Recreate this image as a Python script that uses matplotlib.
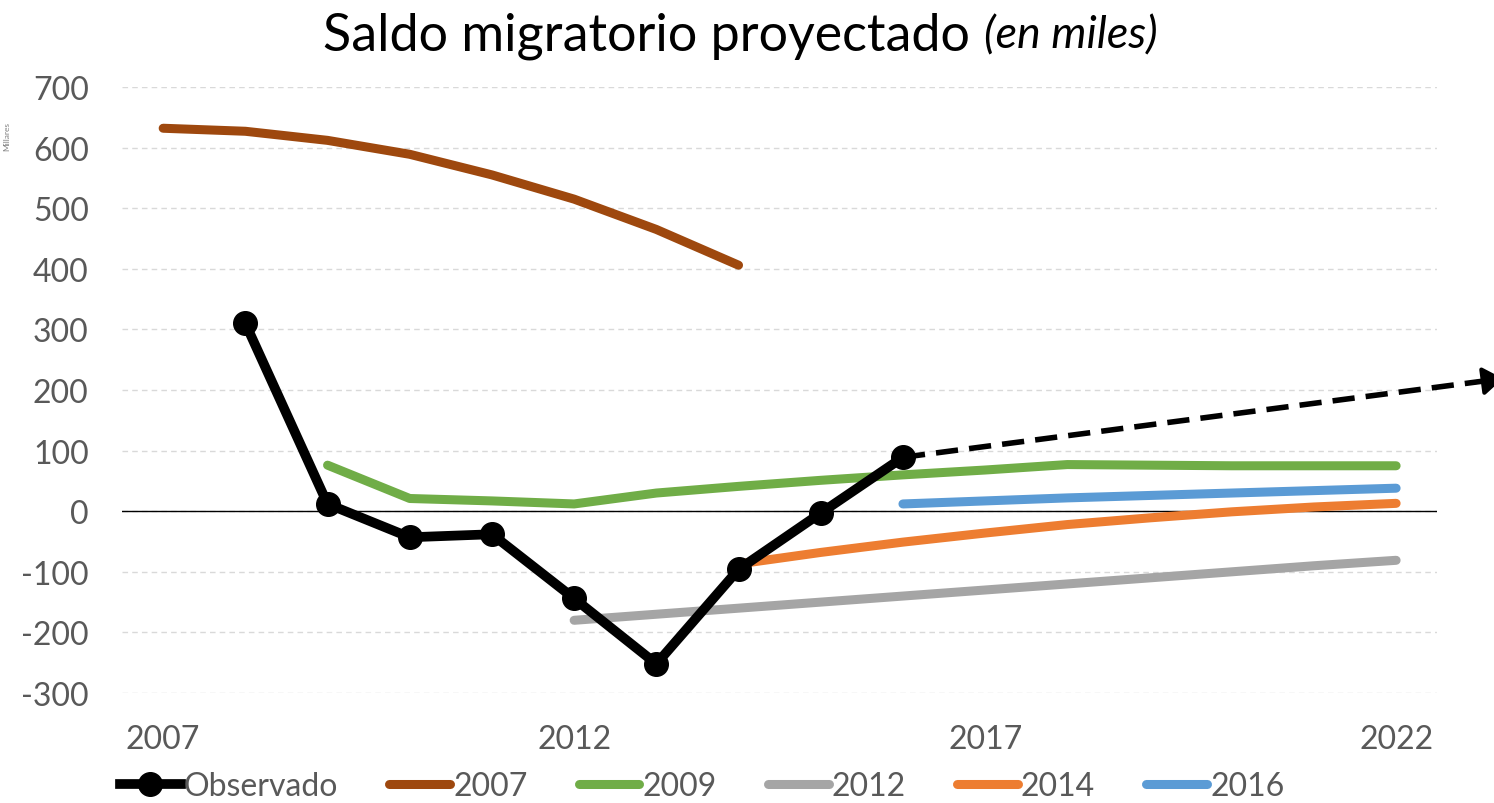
import matplotlib
matplotlib.use("Agg")
import matplotlib.pyplot as plt
from matplotlib.lines import Line2D

obs_x = [2008, 2009, 2010, 2011, 2012, 2013, 2014, 2015, 2016]
obs_y = [310, 12, -43, -38, -144, -252, -96, -3, 89]
p2007_x = [2007, 2008, 2009, 2010, 2011, 2012, 2013, 2014]
p2007_y = [632, 627, 612, 589, 555, 515, 465, 406]
p2009_x = list(range(2009, 2023))
p2009_y = [76, 21, 17, 12, 30, 41, 51, 60, 68, 77, 76, 75, 75, 75]
p2012_x = list(range(2012, 2023))
p2012_y = [-180, -170, -160, -150, -140, -130, -120, -110, -100, -90, -81]
p2014_x = list(range(2014, 2023))
p2014_y = [-87, -68, -51, -36, -22, -11, -1, 7, 13]
p2016_x = list(range(2016, 2023))
p2016_y = [12, 17, 22, 26, 30, 34, 38]
trend_x = [2016, 2023.3]
trend_y = [89, 219]
xtick_vals = [2007, 2012, 2017, 2022]
ytick_vals = list(range(-300, 800, 100))
legend_labels = ["Observado", "2007", "2009", "2012", "2014", "2016"]

FONT = "Lato"
plt.rcParams["font.family"] = [FONT, "DejaVu Sans"]
TXT = "#595959"

fig = plt.figure(figsize=(14.94, 8.04), dpi=100)
ax = fig.add_axes([0.0817, 0.1368, 0.8803, 0.7537])

c_obs = "#000000"
c07 = "#9e480e"
c09 = "#70ad47"
c12 = "#a5a5a5"
c14 = "#ed7d31"
c16 = "#5b9bd5"

lw = 6.5
for xs, ys, c in [(p2007_x, p2007_y, c07), (p2009_x, p2009_y, c09), (p2012_x, p2012_y, c12),
                  (p2014_x, p2014_y, c14), (p2016_x, p2016_y, c16)]:
    ax.plot(xs, ys, color=c, lw=lw, solid_capstyle="round", solid_joinstyle="round", zorder=3)
ax.plot(obs_x, obs_y, color=c_obs, lw=7, marker="o", markersize=17, solid_joinstyle="round", zorder=5)

# dashed trend arrow
frac = 0.975
fx = trend_x[0] + (trend_x[1] - trend_x[0]) * frac
fy = trend_y[0] + (trend_y[1] - trend_y[0]) * frac
ax.plot([trend_x[0], fx], [trend_y[0], fy], color="black", lw=4, linestyle=(0, (4, 2)),
        clip_on=False, zorder=4, dash_capstyle="butt")
bx = trend_x[0] + (trend_x[1] - trend_x[0]) * 0.95
by = trend_y[0] + (trend_y[1] - trend_y[0]) * 0.95
ax.annotate("", xy=(trend_x[1], trend_y[1]), xytext=(bx, by),
            xycoords="data", textcoords="data", annotation_clip=False,
            arrowprops=dict(arrowstyle="-|>,head_length=1.0,head_width=0.7", color="black",
                            lw=3, shrinkA=0, shrinkB=0, mutation_scale=12),
            zorder=4)

ax.set_xlim(2006.5, 2022.5)
ax.set_ylim(-300, 700)
ax.set_xticks(xtick_vals)
ax.set_xticklabels([str(v) for v in xtick_vals])
ax.set_yticks(ytick_vals)
ax.set_yticklabels([str(v) for v in ytick_vals])
ax.tick_params(axis="both", length=0, labelsize=23, labelcolor=TXT)
ax.tick_params(axis="y", pad=24)
ax.tick_params(axis="x", pad=22)
for s in ax.spines.values():
    s.set_visible(False)
ax.grid(axis="y", color="#d9d9d9", linestyle=(0, (4, 3)), lw=1.0, zorder=0)
ax.axhline(0, color="black", lw=1.0, zorder=2)

handles = [
    Line2D([], [], color=c_obs, lw=7, marker="o", markersize=17),
    Line2D([], [], color=c07, lw=lw, solid_capstyle="round"),
    Line2D([], [], color=c09, lw=lw, solid_capstyle="round"),
    Line2D([], [], color=c12, lw=lw, solid_capstyle="round"),
    Line2D([], [], color=c14, lw=lw, solid_capstyle="round"),
    Line2D([], [], color=c16, lw=lw, solid_capstyle="round"),
]
leg = fig.legend(handles, legend_labels, loc="center", bbox_to_anchor=(0.47, 0.021), ncol=6,
                 frameon=False, fontsize=23, handlelength=1.9, handletextpad=0.1,
                 columnspacing=1.6, borderpad=0)
for t in leg.get_texts():
    t.set_color(TXT)

# title in two parts, scaled to the reference width
fig.canvas.draw()
r = fig.canvas.get_renderer()
t1 = fig.text(0, 0.955, "Saldo migratorio proyectado ", fontsize=36, color="black",
              ha="left", va="center")
t2 = fig.text(0, 0.955, "(en miles)", fontsize=31, color="black", style="italic",
              ha="left", va="center")
w = (t1.get_window_extent(r).width + t2.get_window_extent(r).width)
scale = 835.0 / w
t1.set_fontsize(36 * scale)
t2.set_fontsize(31 * scale)
w1 = t1.get_window_extent(r).width / fig.bbox.width
w2 = t2.get_window_extent(r).width / fig.bbox.width
start = 0.4955 - (w1 + w2) / 2
t1.set_x(start)
t2.set_x(start + w1)

fig.text(0.002, 0.83, "Millares", rotation=90, fontsize=6, color="#808080", ha="left", va="center")

fig.savefig("out.png", dpi=100)
